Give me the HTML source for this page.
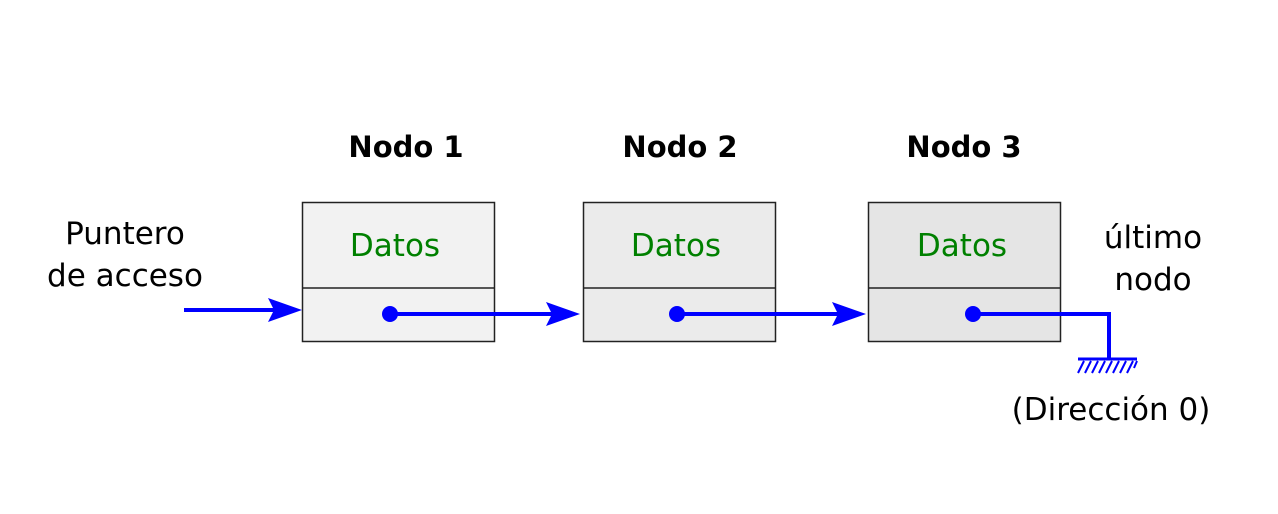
<!DOCTYPE html>
<html><head><meta charset="utf-8"><style>
html,body{margin:0;padding:0;background:#fff;width:1278px;height:514px;overflow:hidden}
text{font-family:"DejaVu Sans","Liberation Sans",sans-serif}
</style></head><body>
<svg width="1278" height="514" viewBox="0 0 1278 514" xmlns="http://www.w3.org/2000/svg">
<g font-size="29" text-anchor="middle" font-weight="bold" fill="#000">
<text x="406" y="157">Nodo 1</text>
<text x="680" y="157">Nodo 2</text>
<text x="964" y="157">Nodo 3</text>
</g>
<g stroke="#222" stroke-width="1.5">
<rect x="302.5" y="202.5" width="192" height="139" fill="#f2f2f2"/>
<line x1="302" y1="288" x2="494" y2="288"/>
<rect x="583.5" y="202.5" width="192" height="139" fill="#ebebeb"/>
<line x1="583" y1="288" x2="775" y2="288"/>
<rect x="868.5" y="202.5" width="192" height="139" fill="#e5e5e5"/>
<line x1="868" y1="288" x2="1060" y2="288"/>
</g>
<g font-size="31" text-anchor="middle" fill="#008000">
<text x="395" y="256">Datos</text>
<text x="676" y="256">Datos</text>
<text x="962" y="256">Datos</text>
</g>
<g font-size="31" text-anchor="middle" fill="#000">
<text x="125" y="244">Puntero</text>
<text x="125" y="286">de acceso</text>
<text x="1153" y="248">último</text>
<text x="1153" y="290">nodo</text>
<text x="1111" y="420">(Dirección 0)</text>
</g>
<g stroke="#0000ff" stroke-width="4" fill="none">
<line x1="184" y1="310" x2="280" y2="310"/>
<line x1="390" y1="314" x2="560" y2="314"/>
<line x1="677" y1="314" x2="846" y2="314"/>
<polyline points="972,314 1109,314 1109,359"/>
<line x1="1078" y1="359" x2="1137" y2="359" stroke-width="3"/>
</g>
<g stroke="#0000ff" stroke-width="2">
<line x1="1084" y1="361" x2="1078" y2="373"/><line x1="1091" y1="361" x2="1085" y2="373"/>
<line x1="1098" y1="361" x2="1092" y2="373"/><line x1="1105" y1="361" x2="1099" y2="373"/>
<line x1="1112" y1="361" x2="1106" y2="373"/><line x1="1119" y1="361" x2="1113" y2="373"/>
<line x1="1126" y1="361" x2="1120" y2="373"/><line x1="1133" y1="361" x2="1127" y2="373"/>
<line x1="1137" y1="361" x2="1134" y2="368"/>
</g>
<g fill="#0000ff">
<polygon points="268,298 302,310 268,322 274,310"/>
<polygon points="546,302 580,314 546,326 552,314"/>
<polygon points="832,302 866,314 832,326 838,314"/>
<circle cx="390" cy="314" r="8"/>
<circle cx="677" cy="314" r="8"/>
<circle cx="973" cy="314" r="8"/>
</g>
</svg>
</body></html>
